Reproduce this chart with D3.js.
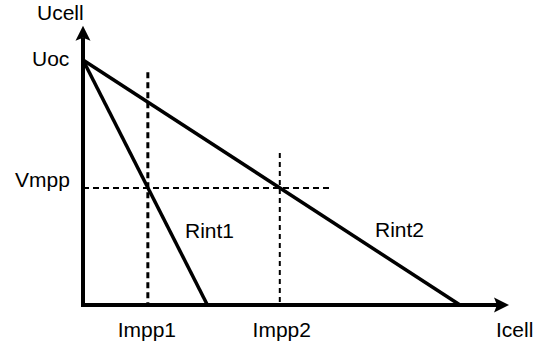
<!DOCTYPE html>
<html lang="en">
<head>
    <meta charset="UTF-8">
    <title>Ucell vs Icell</title>
    <style>
        html, body {
            margin: 0;
            padding: 0;
            background-color: #fff;
        }
        svg text {
            font-family: 'Liberation Sans', Arial, sans-serif;
            font-size: 21px;
            fill: #000;
        }
    </style>
</head>
<body>
    <div id="graph"></div>
    <script src="https://d3js.org/d3.v7.min.js"></script>
    <script>
        // values (relative units: Uoc = 1, Isc of Rint2 = 1)
        const curves = ["Rint1", "Rint2"];
        const iscValues = [0.33, 1.0];
        const imppValues = [0.172, 0.522];
        const imppLabels = ["Impp1", "Impp2"];
        const imppTops = [0.95, 0.62];
        const uoc = 1.0;
        const vmpp = 0.478;
        const vmppEnd = 0.655;

        const width = 544, height = 347;

        const x = d3.scaleLinear().domain([0, 1]).range([83, 460]);
        const y = d3.scaleLinear().domain([0, 1]).range([305, 60]);

        const svg = d3.select("#graph")
            .append("svg")
            .attr("width", width)
            .attr("height", height);

        // DASHED GUIDES
        svg.append("line")
            .attr("x1", x(0)).attr("x2", x(vmppEnd))
            .attr("y1", y(vmpp)).attr("y2", y(vmpp))
            .style("stroke", "#000")
            .style("stroke-width", 2)
            .style("stroke-dasharray", "6,4");

        svg.selectAll(".impp")
            .data(imppValues)
            .enter()
            .append("line")
            .attr("class", "impp")
            .attr("x1", d => x(d)).attr("x2", d => x(d))
            .attr("y1", (d, i) => y(imppTops[i]))
            .attr("y2", y(0))
            .style("stroke", "#000")
            .style("stroke-width", (d, i) => i === 0 ? 3 : 2)
            .style("stroke-dasharray", (d, i) => i === 0 ? "6,4" : "5,4");

        // CURVES
        svg.selectAll(".curve")
            .data(iscValues)
            .enter()
            .append("line")
            .attr("class", "curve")
            .attr("x1", x(0)).attr("y1", y(uoc))
            .attr("x2", d => x(d)).attr("y2", y(0))
            .style("stroke", "#000")
            .style("stroke-width", 3.5);

        // AXES
        const yTop = 1.14, xEnd = 1.13;
        svg.append("line")
            .attr("x1", x(0)).attr("x2", x(0))
            .attr("y1", y(0) + 2).attr("y2", y(yTop) + 12)
            .style("stroke", "#000")
            .style("stroke-width", 4);
        svg.append("line")
            .attr("x1", x(0) - 2).attr("x2", x(xEnd) - 12)
            .attr("y1", y(0)).attr("y2", y(0))
            .style("stroke", "#000")
            .style("stroke-width", 4);

        // arrow heads
        const ax = x(0), ay = y(yTop);
        svg.append("path")
            .attr("d", `M${ax},${ay} L${ax - 7.5},${ay + 15} L${ax},${ay + 12} L${ax + 7.5},${ay + 15} Z`)
            .style("fill", "#000");
        const bx = x(xEnd), by = y(0);
        svg.append("path")
            .attr("d", `M${bx},${by} L${bx - 15},${by - 7.5} L${bx - 12},${by} L${bx - 15},${by + 7.5} Z`)
            .style("fill", "#000");

        // LABELS
        svg.append("text").attr("x", 37).attr("y", 20).text("Ucell");
        svg.append("text").attr("x", 32).attr("y", y(uoc) + 6).text("Uoc");
        svg.append("text").attr("x", 15).attr("y", y(vmpp) - 1).text("Vmpp");
        svg.append("text").attr("x", 496).attr("y", 337).text("Icell");

        svg.selectAll(".impp-label")
            .data(imppValues)
            .enter()
            .append("text")
            .attr("class", "impp-label")
            .attr("x", (d, i) => x(d) + (i === 0 ? -1 : 2))
            .attr("y", 337)
            .attr("text-anchor", "middle")
            .text((d, i) => imppLabels[i]);

        const curveLabelPos = [[185, 238], [375, 237]];
        svg.selectAll(".curve-label")
            .data(curves)
            .enter()
            .append("text")
            .attr("class", "curve-label")
            .attr("x", (d, i) => curveLabelPos[i][0])
            .attr("y", (d, i) => curveLabelPos[i][1])
            .text(d => d);
    </script>
</body>
</html>
